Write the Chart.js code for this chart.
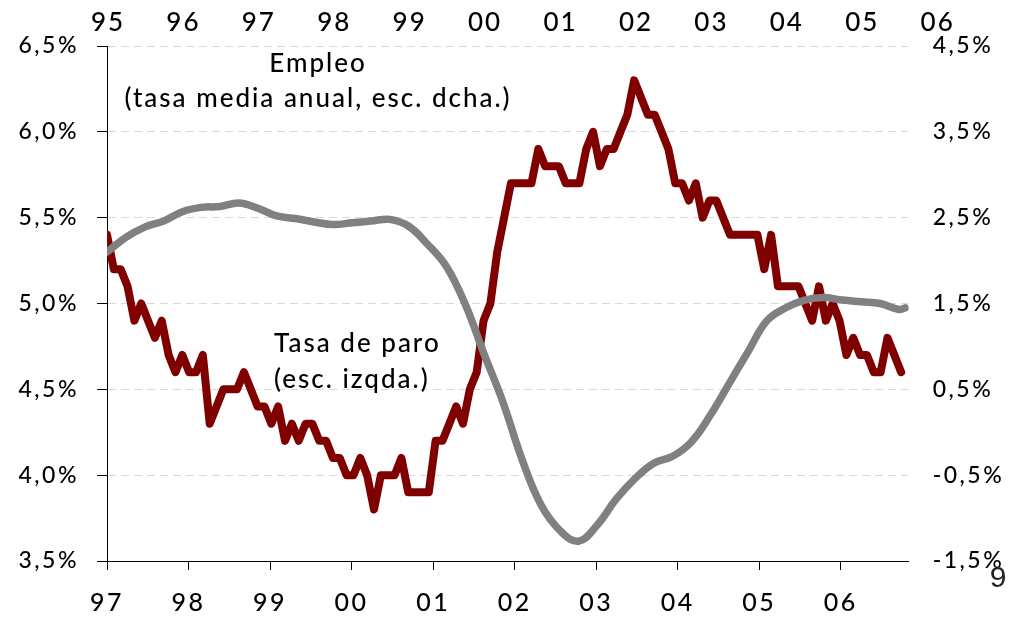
<!DOCTYPE html>
<html>
<head>
<meta charset="utf-8">
<script src="https://cdn.jsdelivr.net/npm/chart.js@4.4.1/dist/chart.umd.min.js"></script>
<style>
  html, body { margin: 0; padding: 0; background: #fff; }
  #wrap { width: 1017px; height: 623px; position: relative; }
</style>
</head>
<body>
<div id="wrap"><canvas id="chart"></canvas></div>
<script>
// tasa de paro, mensual desde ene-97 (esc. izqda.)
const paro = [
  5.4, 5.2, 5.2, 5.1, 4.9, 5.0, 4.9, 4.8, 4.9, 4.7, 4.6, 4.7, // 97
  4.6, 4.6, 4.7, 4.3, 4.4, 4.5, 4.5, 4.5, 4.6, 4.5, 4.4, 4.4, // 98
  4.3, 4.4, 4.2, 4.3, 4.2, 4.3, 4.3, 4.2, 4.2, 4.1, 4.1, 4.0, // 99
  4.0, 4.1, 4.0, 3.8, 4.0, 4.0, 4.0, 4.1, 3.9, 3.9, 3.9, 3.9, // 00
  4.2, 4.2, 4.3, 4.4, 4.3, 4.5, 4.6, 4.9, 5.0, 5.3, 5.5, 5.7, // 01
  5.7, 5.7, 5.7, 5.9, 5.8, 5.8, 5.8, 5.7, 5.7, 5.7, 5.9, 6.0, // 02
  5.8, 5.9, 5.9, 6.0, 6.1, 6.3, 6.2, 6.1, 6.1, 6.0, 5.9, 5.7, // 03
  5.7, 5.6, 5.7, 5.5, 5.6, 5.6, 5.5, 5.4, 5.4, 5.4, 5.4, 5.4, // 04
  5.2, 5.4, 5.1, 5.1, 5.1, 5.1, 5.0, 4.9, 5.1, 4.9, 5.0, 4.9, // 05
  4.7, 4.8, 4.7, 4.7, 4.6, 4.6, 4.8, 4.7, 4.6                 // 06
]

// empleo, tasa media anual (esc. dcha.), meses desde ene-95
const empleoMes = [
  0, 3, 6, 9, 12, 15, 18, 21, 24, 27, 30, 33, 36, 39, 42, 45, 48, 51, 54, 57, 60, 63,
  66, 69, 72, 75, 78, 81, 84, 87, 90, 93, 96, 99, 102, 105, 108, 111, 114, 117, 120, 123, 126, 127
]
const empleo = [
  2.10, 2.27, 2.39, 2.46, 2.57, 2.62, 2.63, 2.67, 2.61, 2.52, 2.49, 2.45, 2.42, 2.44, 2.46, 2.48,
  2.40, 2.19, 1.93, 1.49, 0.91, 0.35, -0.31, -0.84, -1.14, -1.27, -1.08, -0.78, -0.54, -0.36,
  -0.28, -0.11, 0.20, 0.57, 0.94, 1.30, 1.45, 1.54, 1.57, 1.54, 1.52, 1.50, 1.43, 1.45
]

const anosAbajo = ['97', '98', '99', '00', '01', '02', '03', '04', '05', '06']
const anosArriba = ['95', '96', '97', '98', '99', '00', '01', '02', '03', '04', '05', '06']

// the year ticks below sit a bit closer than 12 monthly points in the original
const pasoAno = 11.91

const fuente = 'Lato, "Open Sans", sans-serif'
const fmt = v => v.toFixed(1).replace('.', ',') + '%'

Chart.defaults.font.family = fuente
Chart.defaults.font.weight = '500'
Chart.defaults.color = '#000'

const extras = {
  id: 'extras',
  beforeDraw(chart) {
    chart.ctx.letterSpacing = '2.5px'
  },
  afterDraw(chart) {
    const { ctx } = chart
    const top = chart.scales.x2
    ctx.save()
    ctx.fillStyle = '#000'
    ctx.textBaseline = 'alphabetic'

    // eje superior (empleo)
    ctx.letterSpacing = '2px'
    ctx.font = '500 26px ' + fuente
    ctx.textAlign = 'center'
    anosArriba.forEach((t, i) => ctx.fillText(t, top.getPixelForValue(i * 12) + 1, 31))

    // rotulos
    ctx.font = '500 26px ' + fuente
    ctx.fillText('Empleo', 318, 72)
    ctx.fillText('(tasa media anual, esc. dcha.)', 318, 107)
    ctx.textAlign = 'left'
    ctx.fillText('Tasa de paro', 274, 352)
    ctx.fillText('(esc. izqda.)', 274, 388)

    // numero de pagina
    ctx.letterSpacing = '0px'
    ctx.fillStyle = '#222'
    ctx.textAlign = 'center'
    ctx.font = '30px "Liberation Sans", sans-serif'
    ctx.fillText('9', 998, 587)
    ctx.restore()
  }
}

new Chart(document.getElementById('chart'), {
  type: 'line',
  data: {
    datasets: [
      {
        label: 'Empleo',
        data: empleoMes.map((m, i) => ({ x: m, y: empleo[i] })),
        xAxisID: 'x2',
        yAxisID: 'y2',
        borderColor: '#808080',
        borderWidth: 7.5,
        tension: 0.4,
        pointRadius: 0,
        borderCapStyle: 'round',
        borderJoinStyle: 'round'
      },
      {
        label: 'Tasa de paro',
        data: paro.map((v, i) => ({ x: i, y: v })),
        xAxisID: 'x',
        yAxisID: 'y',
        borderColor: '#800000',
        borderWidth: 8,
        tension: 0,
        pointRadius: 0,
        borderCapStyle: 'round',
        borderJoinStyle: 'round'
      }
    ]
  },
  options: {
    responsive: true,
    maintainAspectRatio: false,
    animation: false,
    layout: { padding: { top: 46, left: 0, right: 0, bottom: 0 } },
    plugins: {
      legend: { display: false },
      tooltip: { enabled: false }
    },
    scales: {
      x: {
        type: 'linear',
        position: 'bottom',
        min: 0,
        max: 117.1,
        afterFit(s) { s.height = 62 },
        border: { color: '#000', width: 1 },
        grid: { drawOnChartArea: false, tickLength: 9, tickColor: '#000', color: '#000' },
        ticks: {
          stepSize: pasoAno,
          includeBounds: false,
          autoSkip: false,
          maxRotation: 0,
          padding: 18,
          font: { size: 25 },
          callback: v => anosAbajo[Math.round(v / pasoAno)]
        }
      },
      x2: {
        type: 'linear',
        position: 'top',
        min: 0,
        max: 127.55,
        display: false
      },
      y: {
        position: 'left',
        min: 3.5,
        max: 6.5,
        afterFit(s) { s.width = 107 },
        border: { color: '#000', width: 1, dash: [8, 5] },
        grid: {
          color: c => (c.tick && c.tick.value === 3.5 ? 'rgba(0,0,0,0)' : '#d9d9d9'),
          lineWidth: 1,
          tickLength: 10,
          tickColor: '#000',
          tickBorderDash: []
        },
        ticks: { stepSize: 0.5, padding: 18, font: { size: 23 }, callback: v => fmt(v) }
      },
      y2: {
        position: 'right',
        min: -1.5,
        max: 4.5,
        afterFit(s) { s.width = 108.3 },
        border: { display: false },
        grid: { display: false, drawTicks: false, tickLength: 0 },
        ticks: { stepSize: 1, padding: 24, font: { size: 23 }, callback: v => fmt(v) }
      }
    }
  },
  plugins: [extras]
})
</script>
</body>
</html>
